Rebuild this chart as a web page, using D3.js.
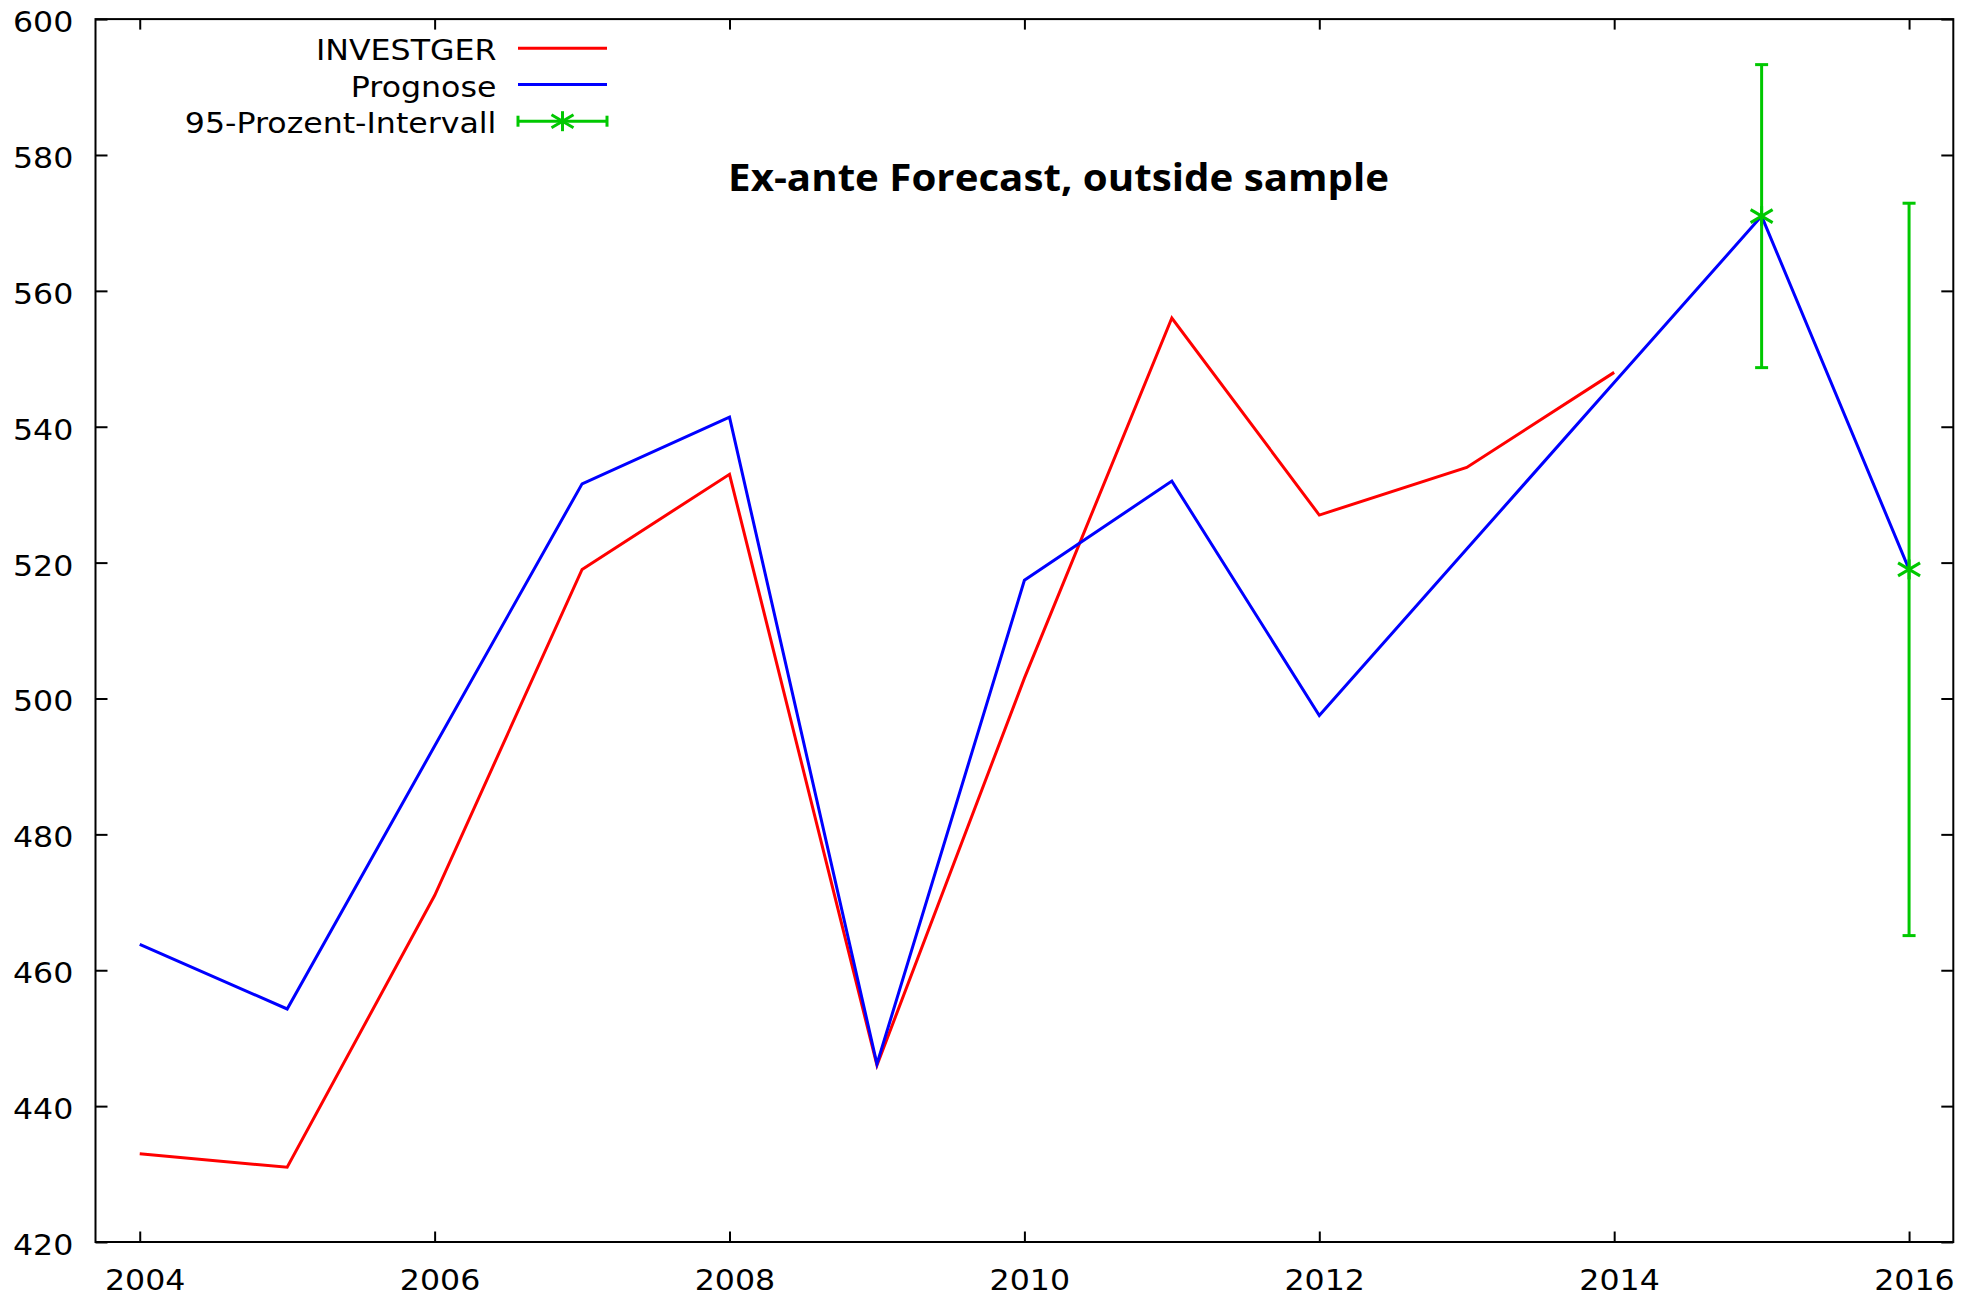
<!DOCTYPE html>
<html>
<head>
<meta charset="utf-8">
<script src="https://cdn.jsdelivr.net/npm/d3@7/dist/d3.min.js"></script>
<style>
  html, body { margin: 0; padding: 0; background: #fff; }
  svg { display: block; }
</style>
</head>
<body>
<svg id="chart" width="1967" height="1299"></svg>
<script>
// Years on the time axis
const years = [2004, 2005, 2006, 2007, 2008, 2009, 2010, 2011, 2012, 2013, 2014, 2015, 2016];
// Observed series (2004–2014)
const investgerYears = [2004, 2005, 2006, 2007, 2008, 2009, 2010, 2011, 2012, 2013, 2014];
const investger = [433, 431, 471, 519, 533, 446, 503, 556, 527, 534, 548];
// Model forecast (2004–2016)
const prognose = [463.8, 454.3, 493, 531.6, 541.4, 446.2, 517.4, 532, 497.5, 522, 546.5, 571, 519];
// 95 % forecast interval for the out-of-sample years
const intervalYears = [2015, 2016];
const intervalMid = [571, 519];
const intervalLow = [548.7, 465.1];
const intervalHigh = [593.3, 572.9];
// Axis ticks
const xTicks = [2004, 2006, 2008, 2010, 2012, 2014, 2016];
const yTicks = [420, 440, 460, 480, 500, 520, 540, 560, 580, 600];
// Legend entries
const legendLabels = ["INVESTGER", "Prognose", "95-Prozent-Intervall"];
const titleText = "Ex-ante Forecast, outside sample";

(function draw() {
  const RED = "#ff0000", BLUE = "#0000ff", GREEN = "#00c800";
  const FONT = "'DejaVu Sans', Verdana, sans-serif";
  const STRETCH = 1.15;

  const svg = d3.select("#chart");

  const plotLeft = 95.5, plotRight = 1953.3, plotTop = 19.1, plotBottom = 1242;
  const x = d3.scaleLinear().domain([2003.7, 2016.3]).range([plotLeft, plotRight]);
  const y = d3.scaleLinear().domain([420, 600]).range([plotBottom, plotTop]);

  // Horizontally widened text, as produced by the plotting terminal
  function label(g, px, py, txt, anchor) {
    return g.append("text")
      .attr("transform", `translate(${px},${py}) scale(${STRETCH},1)`)
      .attr("text-anchor", anchor)
      .attr("font-family", FONT)
      .attr("font-size", 27.5)
      .attr("fill", "#000")
      .text(txt);
  }

  // Mirrored inward ticks on all four sides
  const axes = svg.append("g").attr("class", "axes");
  function tickify(sel) {
    sel.select(".domain").remove();
    sel.selectAll(".tick text").remove();
    sel.selectAll(".tick line").attr("stroke", "#000").attr("stroke-width", 2);
  }
  axes.append("g").attr("transform", `translate(0,${plotBottom})`)
    .call(d3.axisBottom(x).tickValues(xTicks).tickSize(-10.5)).call(tickify);
  axes.append("g").attr("transform", `translate(0,${plotTop})`)
    .call(d3.axisTop(x).tickValues(xTicks).tickSize(-10.5)).call(tickify);
  axes.append("g").attr("transform", `translate(${plotLeft},0)`)
    .call(d3.axisLeft(y).tickValues(yTicks).tickSize(-12)).call(tickify);
  axes.append("g").attr("transform", `translate(${plotRight},0)`)
    .call(d3.axisRight(y).tickValues(yTicks).tickSize(-12)).call(tickify);

  // Tick labels
  const labels = svg.append("g");
  yTicks.forEach(v => label(labels, 73.3, y(v) + 13, String(v), "end"));
  xTicks.forEach(v => label(labels, x(v) + 5.4, 1290, String(v), "middle"));

  // Frame
  svg.append("rect")
    .attr("x", plotLeft).attr("y", plotTop)
    .attr("width", plotRight - plotLeft).attr("height", plotBottom - plotTop)
    .attr("fill", "none").attr("stroke", "#000").attr("stroke-width", 2);

  // Series lines
  const line = d3.line().x(d => x(d[0])).y(d => y(d[1]));
  svg.append("path")
    .datum(investgerYears.map((yr, i) => [yr, investger[i]]))
    .attr("d", line).attr("fill", "none").attr("stroke", RED).attr("stroke-width", 3);
  svg.append("path")
    .datum(years.map((yr, i) => [yr, prognose[i]]))
    .attr("d", line).attr("fill", "none").attr("stroke", BLUE).attr("stroke-width", 3);

  // Star marker (diagonal cross, vertical stroke)
  function star(g, cx, cy) {
    const s = g.append("g").attr("stroke", GREEN).attr("stroke-width", 3).attr("fill", "none");
    s.append("line").attr("x1", cx - 11).attr("y1", cy - 6.5).attr("x2", cx + 11).attr("y2", cy + 6.5);
    s.append("line").attr("x1", cx - 11).attr("y1", cy + 6.5).attr("x2", cx + 11).attr("y2", cy - 6.5);
    s.append("line").attr("x1", cx).attr("y1", cy - 10).attr("x2", cx).attr("y2", cy + 10);
  }

  // Error bars
  const eb = svg.append("g").attr("stroke", GREEN).attr("stroke-width", 3);
  intervalYears.forEach((yr, i) => {
    const cx = x(yr);
    eb.append("line").attr("x1", cx).attr("x2", cx).attr("y1", y(intervalLow[i])).attr("y2", y(intervalHigh[i]));
    eb.append("line").attr("x1", cx - 6.5).attr("x2", cx + 6.5).attr("y1", y(intervalLow[i])).attr("y2", y(intervalLow[i]));
    eb.append("line").attr("x1", cx - 6.5).attr("x2", cx + 6.5).attr("y1", y(intervalHigh[i])).attr("y2", y(intervalHigh[i]));
    star(svg, cx, y(intervalMid[i]));
  });

  // Legend
  const lg = svg.append("g");
  const rowsY = [48.3, 84.6, 121.2];
  const sampleX0 = 518, sampleX1 = 607;
  legendLabels.forEach((t, i) => label(lg, 496.4, rowsY[i] + 12, t, "end"));
  lg.append("line").attr("x1", sampleX0).attr("x2", sampleX1).attr("y1", rowsY[0]).attr("y2", rowsY[0])
    .attr("stroke", RED).attr("stroke-width", 3);
  lg.append("line").attr("x1", sampleX0).attr("x2", sampleX1).attr("y1", rowsY[1]).attr("y2", rowsY[1])
    .attr("stroke", BLUE).attr("stroke-width", 3);
  const ly = rowsY[2];
  lg.append("line").attr("x1", sampleX0).attr("x2", sampleX1).attr("y1", ly).attr("y2", ly)
    .attr("stroke", GREEN).attr("stroke-width", 3);
  [sampleX0, sampleX1].forEach(px => lg.append("line")
    .attr("x1", px).attr("x2", px).attr("y1", ly - 5.5).attr("y2", ly + 5.5)
    .attr("stroke", GREEN).attr("stroke-width", 3));
  star(lg, (sampleX0 + sampleX1) / 2, ly);

  // Title
  svg.append("text")
    .attr("x", 1058.6).attr("y", 191)
    .attr("text-anchor", "middle")
    .attr("font-family", "'Open Sans', 'Noto Sans', sans-serif")
    .attr("font-weight", 700)
    .attr("font-size", 37)
    .attr("textLength", 661)
    .attr("lengthAdjust", "spacingAndGlyphs")
    .attr("fill", "#000")
    .text(titleText);
})();
</script>
</body>
</html>
